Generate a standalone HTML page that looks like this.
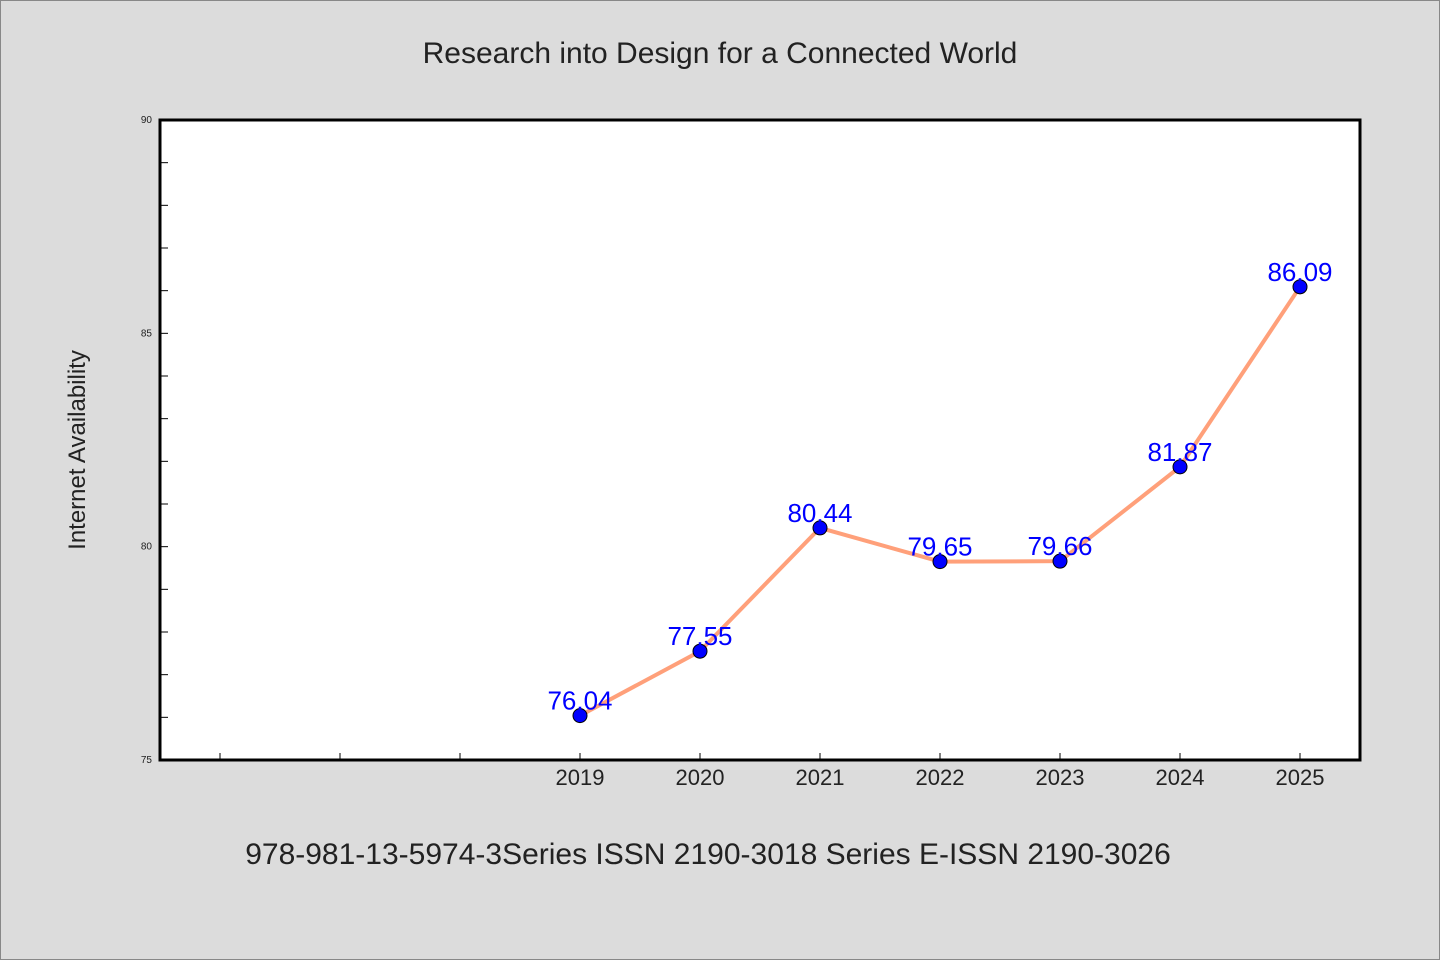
<!DOCTYPE html>
<html><head><meta charset="utf-8"><style>
html,body{margin:0;padding:0;background:#dcdcdc;}
svg{display:block;font-family:"WenQuanYi Zen Hei","Liberation Sans",sans-serif;}
</style></head><body>
<svg id="chart" width="1440" height="960" viewBox="0 0 1440 960">
<rect x="0.5" y="0.5" width="1439" height="959" fill="#dcdcdc" stroke="#888"/>
<text x="720" y="63" text-anchor="middle" font-size="30" fill="#222">Research into Design for a Connected World</text>
<rect x="160" y="120" width="1200" height="640" fill="#fff" stroke="#000" stroke-width="3"/>
<text transform="translate(85,450) rotate(-90)" text-anchor="middle" font-size="24" fill="#222">Internet Availability</text>
<text x="708" y="864" text-anchor="middle" font-size="30" fill="#222">978-981-13-5974-3Series ISSN 2190-3018 Series E-ISSN 2190-3026</text>
<g id="axes"></g><g id="series"></g>
</svg>
<script>
const categories=["2019","2020","2021","2022","2023","2024","2025"];
const values=[76.04,77.55,80.44,79.65,79.66,81.87,86.09];
const yTicks=[75,80,85,90];
const yMin=75,yMax=90,slotStart=-3.5,slotEnd=6.5;
const L=160,R=1360,T=120,B=760;
const NS="http://www.w3.org/2000/svg";
function y(v){return B-(v-yMin)/(yMax-yMin)*(B-T);}
function x(i){return L+(i-slotStart)/(slotEnd-slotStart)*(R-L);}
function mk(tag,attrs,parent){const e=document.createElementNS(NS,tag);for(const k in attrs)e.setAttribute(k,attrs[k]);parent.appendChild(e);return e;}
const axes=document.getElementById('axes'),ser=document.getElementById('series');
for(let v=yMin;v<=yMax;v++){
  const t=mk('line',{x1:L,x2:L+8,y1:y(v),y2:y(v),stroke:'#000','stroke-width':1},axes);
  
  
}
yTicks.forEach(v=>{
  const t=mk('text',{x:L-8,y:y(v)+3,'text-anchor':'end','font-size':10,fill:'#222'},axes);t.textContent=v;
  
  
});
for(let i=Math.ceil(slotStart);i<=slotEnd;i++){
  const t=mk('line',{x1:x(i),x2:x(i),y1:B,y2:B-7,stroke:'#000','stroke-width':1},axes);
  
  
}
categories.forEach((c,i)=>{
  const t=mk('text',{x:x(i),y:B+25,'text-anchor':'middle','font-size':22,fill:'#222'},axes);t.textContent=c;
  
  
});
const line=mk('polyline',{points:values.map((v,i)=>x(i)+','+y(v)).join(' '),fill:'none',stroke:'#ffa07a','stroke-width':4},ser);


values.forEach((v,i)=>{
  const c=mk('circle',{cx:x(i),cy:y(v),r:7,fill:'#0000ff',stroke:'#000','stroke-width':1},ser);
  
  
  const t=mk('text',{x:x(i),y:y(v)-6,'text-anchor':'middle','font-size':26,fill:'#0000ff'},ser);t.textContent=v.toFixed(2);
  
  
});
</script>
</body></html>
